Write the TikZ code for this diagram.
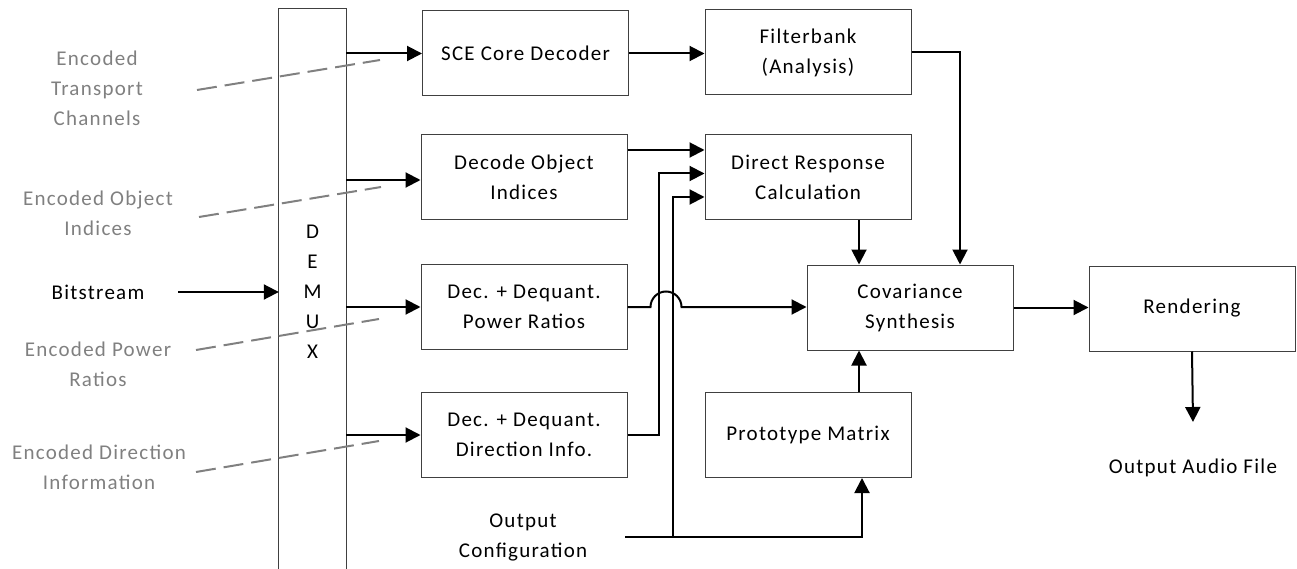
\documentclass[tikz,border=0pt]{standalone}
\usepackage{fontspec}
\setmainfont{Carlito}[LetterSpace=6]
\usetikzlibrary{arrows.meta,calc}
\newcommand\txt{\fontsize{21}{30}\selectfont}
\begin{document}
\begin{tikzpicture}[x=1pt,y=-1pt,
  box/.style={draw=black!75,line width=1pt,minimum width=206pt,minimum height=85pt,inner sep=0pt,align=center,font=\txt},
  arr/.style={line width=2pt,-{Triangle[length=15pt,width=15pt]}},
  ln/.style={line width=2pt},
  lbl/.style={align=center,font=\txt,inner sep=0pt},
  glabel/.style={text=black!50,align=center,font=\txt,inner sep=0pt},
  gdash/.style={draw=black!50,line width=2pt,dash pattern=on 20pt off 8pt}]
\useasboundingbox (0,0) rectangle (1297,569);

% DEMUX
\node[minimum width=67pt,minimum height=560pt,inner sep=0pt] (demux) at (312.5,289) {};
\draw[line width=1pt,black!75] (demux.south west) |- (demux.north east) -- (demux.south east);
\node[lbl] (demuxtxt) at (312.5,291.5) {D\\E\\M\\U\\X};

% boxes
\node[box] (sce) at (525.5,53.5) {SCE Core Decoder};
\node[box] (obj) at (524,177.5) {Decode Object\\Indices};
\node[box] (pow) at (524,307) {Dec. + Dequant.\\Power Ratios};
\node[box] (dir) at (524,435) {Dec. + Dequant.\\Direction Info.};
\node[box] (fb) at (808,52.5) {Filterbank\\(Analysis)};
\node[box] (dr) at (808,177.5) {Direct Response\\Calculation};
\node[box] (proto) at (808,435) {Prototype Matrix};
\node[box] (cov) at (910,307.5) {Covariance\\Synthesis};
\node[box] (rend) at (1192,308.5) {Rendering};

% left labels
\node[lbl] (bit) at (98,292) {Bitstream};
\node[glabel] (etc) at (97,88) {Encoded\\Transport\\Channels};
\node[glabel] (eoi) at (98,213) {Encoded Object\\Indices};
\node[glabel] (epr) at (98,364) {Encoded Power\\Ratios};
\node[glabel] (edi) at (99,467.5) {Encoded Direction\\Information};
\node[lbl] (octxt) at (523,537.5) {Output\\Configuration};
\node[lbl] (oaf) at (1193,468) {Output Audio File};

% dashed lines
\coordinate (d1a) at (197,90);  \coordinate (d1b) at (380,60);
\coordinate (d2a) at (199,217); \coordinate (d2b) at (381,187);
\coordinate (d3a) at (196,350); \coordinate (d3b) at (379,319);
\coordinate (d4a) at (196,472); \coordinate (d4b) at (379,441);
\draw[gdash] (d1a) -- (d1b);
\draw[gdash] (d2a) -- (d2b);
\draw[gdash] (d3a) -- (d3b);
\draw[gdash] (d4a) -- (d4b);

% bitstream
\coordinate (bitstart) at (178,292);
\draw[arr] (bitstart) -- (bitstart -| demux.west);

% demux outputs
\draw[arr] (demux.east |- sce.west) -- (sce.west);
\draw[arr] ($(demux.east |- obj.west)+(0,2.5)$) -- ($(obj.west)+(0,2.5)$);
\draw[arr] (demux.east |- pow.west) -- (pow.west);
\draw[arr] (demux.east |- dir.west) -- (dir.west);

% middle connections
\draw[arr] (sce.east) -- (sce.east -| fb.west);
\draw[arr] (fb.east) -| ($(cov.north)+(50,0)$);
\draw[arr] ($(dr.south)+(51,0)$) -- ($(cov.north)+(-51,0)$);
\draw[arr] ($(proto.north)+(51,0)$) -- ($(cov.south)+(-51,0)$);
\draw[arr] ($(obj.east)+(0,-27.5)$) -- ($(dr.west)+(0,-27.5)$);
\draw[arr] (dir.east) -- ++(31,0) |- ($(dr.west)+(0,-4)$);

\coordinate (ocstart) at (625,537);
\coordinate (junc) at (673,537);
\draw[ln] (ocstart) -- (junc);
\draw[arr] (junc) |- ($(dr.west)+(0,19.5)$);
\draw[arr] (junc) -| ($(proto.south)+(54,0)$);

% power ratios with hop
\draw[arr] (pow.east) -- ($(pow.east)+(23,0)$) arc[start angle=180,end angle=0,radius=15.5pt] -- (pow.east -| cov.west);

% rendering
\draw[arr] (cov.east) -- (cov.east -| rend.west);
\coordinate (oafin) at (1193,422);
\draw[arr] (rend.south) -- (oafin);
\end{tikzpicture}
\end{document}
